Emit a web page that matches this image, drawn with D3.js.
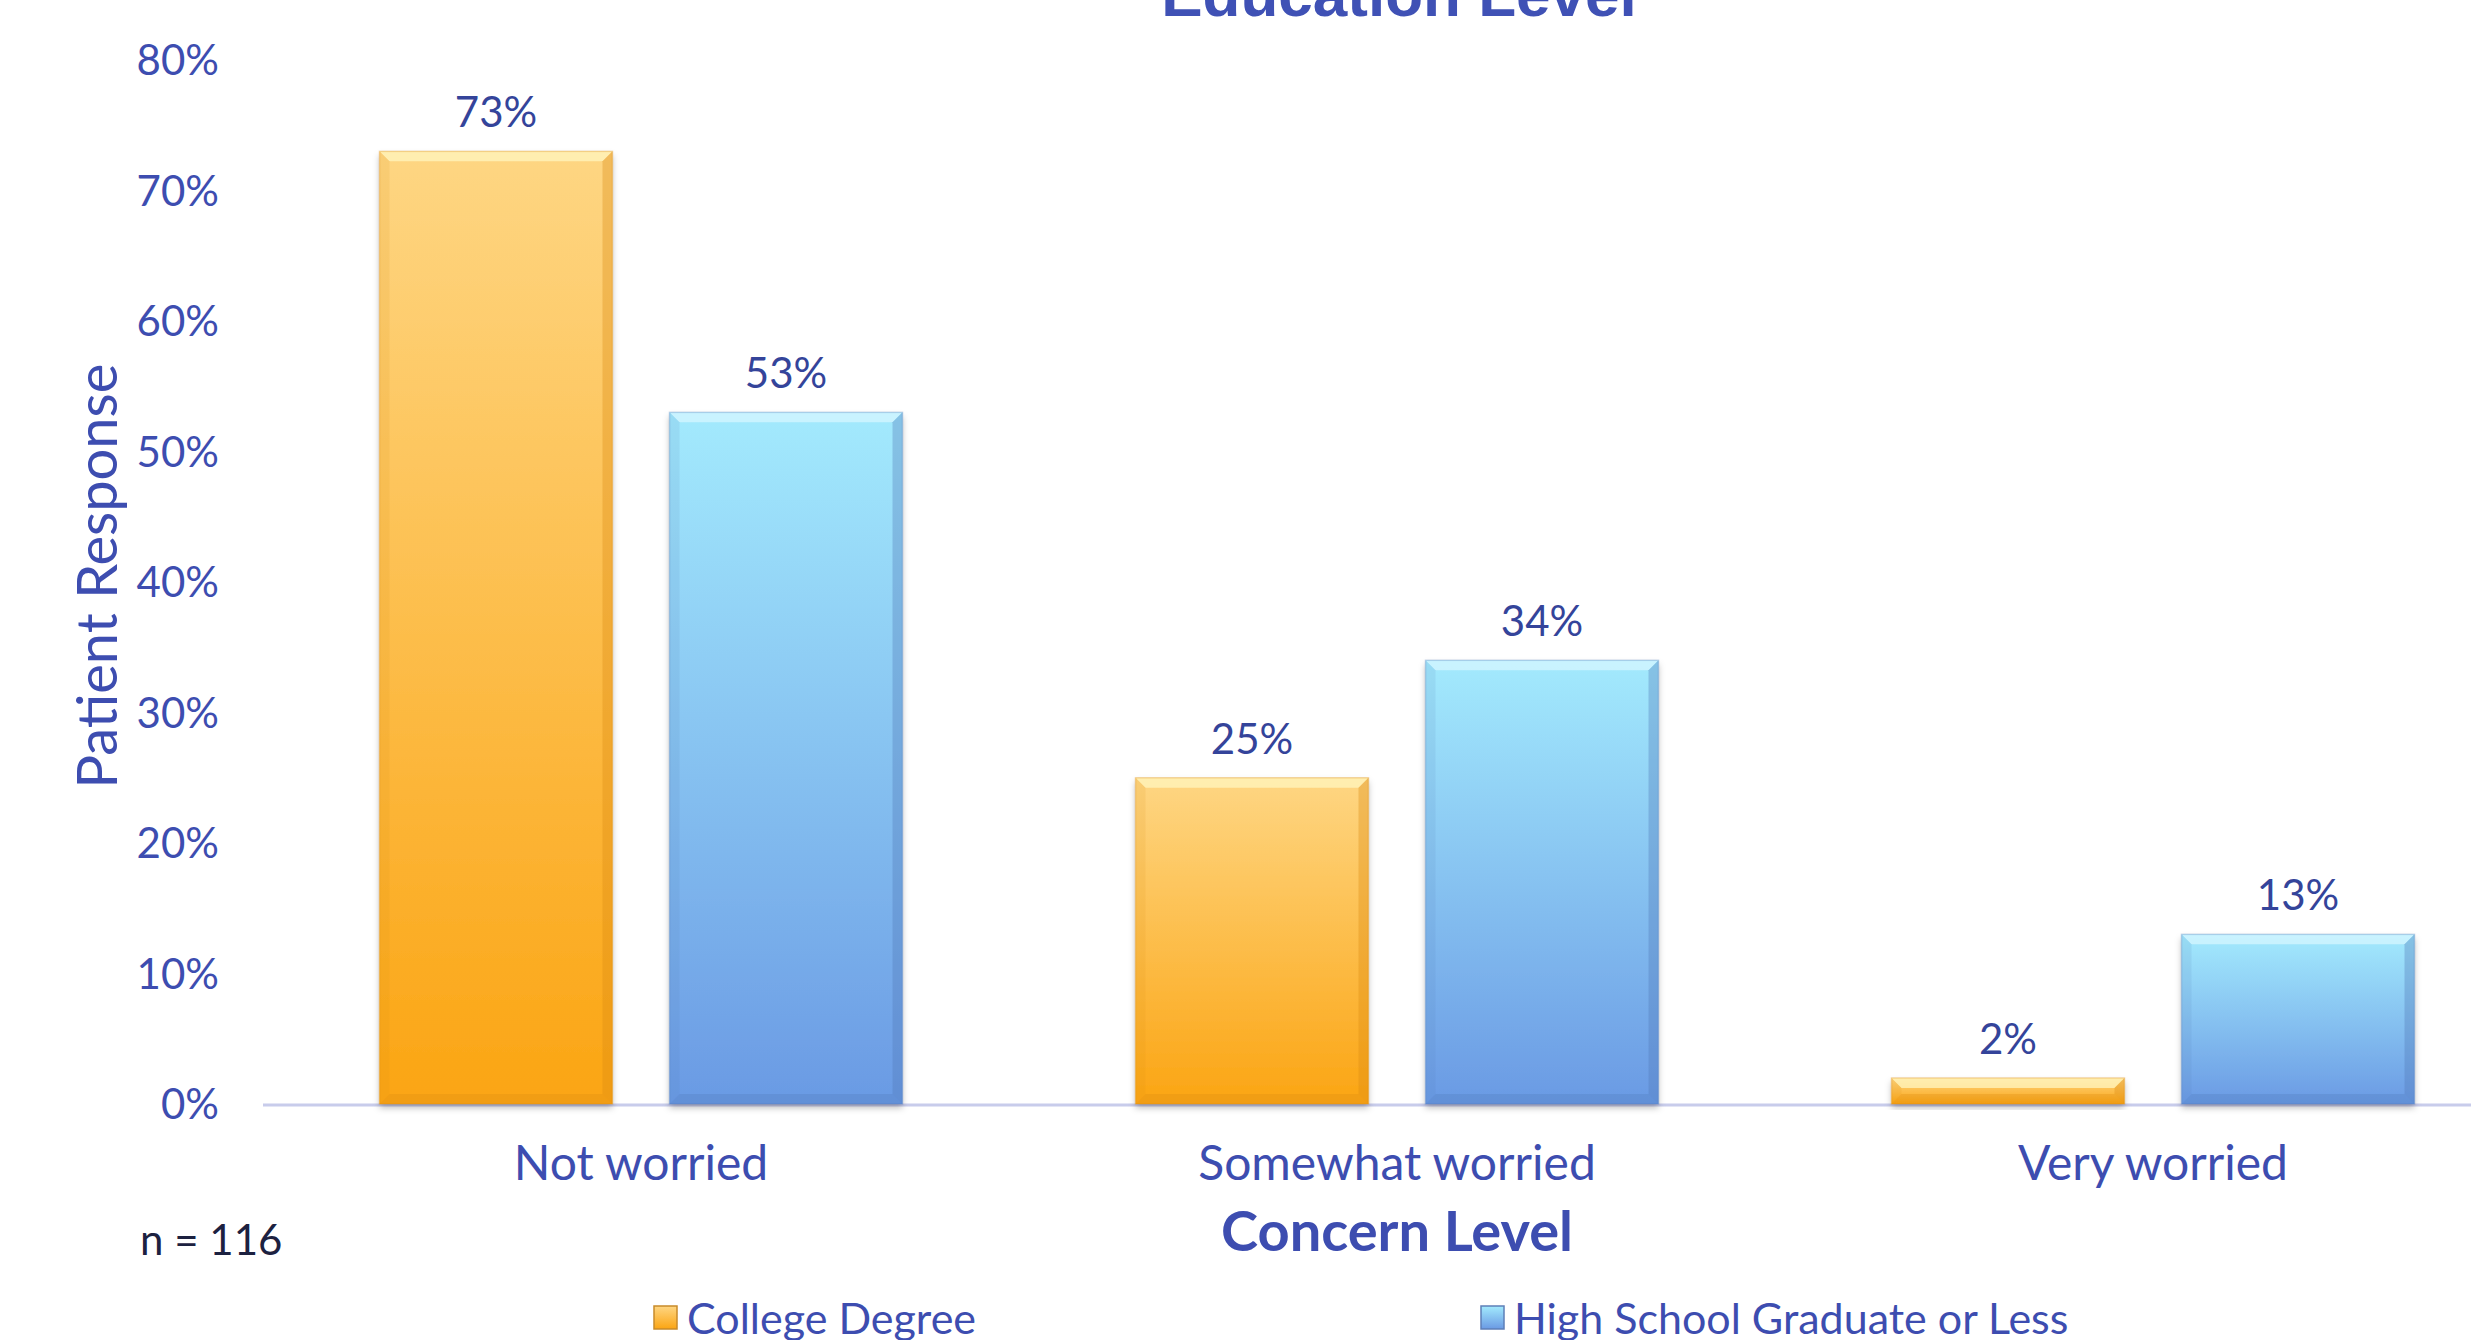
<!DOCTYPE html>
<html><head><meta charset="utf-8">
<script src="https://cdn.jsdelivr.net/npm/d3@7"></script>
<style>html,body{margin:0;padding:0;background:#fff;}svg{display:block;}</style>
</head><body>
<script>
const categories = ["Not worried", "Somewhat worried", "Very worried"];
const seriesNames = ["College Degree", "High School Graduate or Less"];
const collegeValues = [0.73, 0.25, 0.02];
const highSchoolValues = [0.53, 0.34, 0.13];
const yTicks = [0, 0.1, 0.2, 0.3, 0.4, 0.5, 0.6, 0.7, 0.8];
const titleText = "Education Level";
const xTitle = "Concern Level";
const yTitle = "Patient Response";
const noteText = "n = 116";

const W = 2471, H = 1340;
const FONT = "Lato, 'Open Sans', sans-serif";
const BLUE_TXT = "#3d4db0";
const svg = d3.select("body").append("svg").attr("width", W).attr("height", H);
svg.append("rect").attr("width", W).attr("height", H).attr("fill", "#fff");

const defs = svg.append("defs");
function grad(id, c1, c2) {
  const g = defs.append("linearGradient").attr("id", id).attr("x1", 0).attr("y1", 0).attr("x2", 0).attr("y2", 1);
  g.append("stop").attr("offset", "0%").attr("stop-color", c1);
  g.append("stop").attr("offset", "100%").attr("stop-color", c2);
}
grad("gOrange", "#fed683", "#fba513");
grad("gBlue", "#a3eafd", "#6a9ae4");
const f = defs.append("filter").attr("id", "sh").attr("x", "-10%").attr("y", "-10%").attr("width", "120%").attr("height", "130%");
f.append("feDropShadow").attr("dx", 0).attr("dy", 4).attr("stdDeviation", 3).attr("flood-color", "#000").attr("flood-opacity", 0.25);

const y = d3.scaleLinear().domain([0, 0.8]).range([1104, 60]);
const x0 = d3.scaleBand().domain(categories).range([263, 2531]).padding(0);
const x1 = d3.scaleBand().domain(seriesNames).range([0, x0.bandwidth()]).paddingInner(0.1966).paddingOuter(0.4017);

const data = categories.map((c, i) => ({cat: c, vals: [
  {s: seriesNames[0], v: collegeValues[i], g: "gOrange", hl: "#fff6bf", dk: "#d98a10"},
  {s: seriesNames[1], v: highSchoolValues[i], g: "gBlue", hl: "#d5f6ff", dk: "#4f79b8"}
]}));

// axis baseline
svg.append("line").attr("x1", 263).attr("x2", W).attr("y1", y(0)+1).attr("y2", y(0)+1)
  .attr("stroke", "#c8cceb").attr("stroke-width", 3);

// y tick labels
const yAxis = d3.axisLeft(y).tickValues(yTicks).tickFormat(d3.format(".0%")).tickSize(0).tickPadding(0);
const ya = svg.append("g").attr("transform", "translate(219,0)").call(yAxis);
ya.select(".domain").remove();
ya.selectAll("text").attr("font-family", FONT).attr("font-size", 42).attr("fill", BLUE_TXT).attr("dy", "0.35em");

// bars
const groups = svg.selectAll("g.grp").data(data).enter().append("g").attr("class", "grp")
  .attr("transform", d => `translate(${x0(d.cat)},0)`);
const bars = groups.selectAll("g.bar").data(d => d.vals).enter().append("g").attr("class", "bar");
const bw = x1.bandwidth();
bars.each(function(d) {
  const g = d3.select(this);
  const bx = x1(d.s), by = y(d.v), bh = y(0) - y(d.v);
  const e = Math.min(10, bh / 2.2);
  g.append("rect").attr("x", bx).attr("y", by).attr("width", bw).attr("height", bh)
    .attr("fill", `url(#${d.g})`).attr("filter", "url(#sh)");
  g.append("path").attr("d", `M${bx},${by}L${bx+bw},${by}L${bx+bw-e},${by+e}L${bx+e},${by+e}Z`)
    .attr("fill", d.hl).attr("opacity", 0.75);
  g.append("path").attr("d", `M${bx},${by}L${bx+e},${by+e}L${bx+e},${by+bh-e}L${bx},${by+bh}Z`)
    .attr("fill", d.dk).attr("opacity", 0.12);
  g.append("path").attr("d", `M${bx+bw},${by}L${bx+bw-e},${by+e}L${bx+bw-e},${by+bh-e}L${bx+bw},${by+bh}Z`)
    .attr("fill", d.dk).attr("opacity", 0.35);
  g.append("path").attr("d", `M${bx},${by+bh}L${bx+e},${by+bh-e}L${bx+bw-e},${by+bh-e}L${bx+bw},${by+bh}Z`)
    .attr("fill", d.dk).attr("opacity", 0.3);
  g.append("rect").attr("x", bx).attr("y", by).attr("width", bw).attr("height", bh)
    .attr("fill", "none").attr("stroke", d.dk).attr("stroke-opacity", 0.3).attr("stroke-width", 1.5);
  g.append("text").attr("x", bx + bw/2).attr("y", by - 24).attr("text-anchor", "middle")
    .attr("font-family", FONT).attr("font-size", 42).attr("fill", "#34449a")
    .text(d3.format(".0%")(d.v));
});

// x category labels
const xAxis = d3.axisBottom(x0).tickSize(0).tickPadding(0);
const xa = svg.append("g").attr("transform", `translate(0,${y(0)})`).call(xAxis);
xa.select(".domain").remove();
xa.selectAll("text").attr("font-family", FONT).attr("font-size", 48).attr("fill", BLUE_TXT)
  .attr("y", 76).attr("dy", 0);

// axis titles
svg.append("text").attr("x", 1397).attr("y", 1251).attr("text-anchor", "middle")
  .attr("font-family", FONT).attr("font-weight", "bold").attr("font-size", 56).attr("fill", BLUE_TXT).text(xTitle);
svg.append("text").attr("transform", "translate(117,576) rotate(-90)").attr("text-anchor", "middle")
  .attr("font-family", FONT).attr("font-size", 56).attr("fill", BLUE_TXT).text(yTitle);

// title (cut at top)
svg.append("text").attr("x", 1399).attr("y", 16).attr("text-anchor", "middle")
  .attr("font-family", "'Liberation Sans', Arial, sans-serif").attr("font-weight", "bold").attr("font-size", 62)
  .attr("fill", "#3f51b5").text(titleText);

// note
svg.append("text").attr("x", 140).attr("y", 1255).attr("font-family", FONT).attr("font-size", 42)
  .attr("fill", "#1c2140").text(noteText);

// legend
const legX = [654, 1481];
const legG = svg.selectAll("g.leg").data(seriesNames).enter().append("g").attr("class", "leg")
  .attr("transform", (d, i) => `translate(${legX[i]},1306)`);
legG.append("rect").attr("width", 23).attr("height", 23)
  .attr("fill", (d, i) => i === 0 ? "url(#gOrange)" : "url(#gBlue)")
  .attr("stroke", (d, i) => i === 0 ? "#c88a2a" : "#5d7fb8").attr("stroke-width", 1.5);
legG.append("text").attr("x", 33).attr("y", 28).attr("font-family", FONT).attr("font-size", 43)
  .attr("fill", BLUE_TXT).text(d => d);
</script>
</body></html>
